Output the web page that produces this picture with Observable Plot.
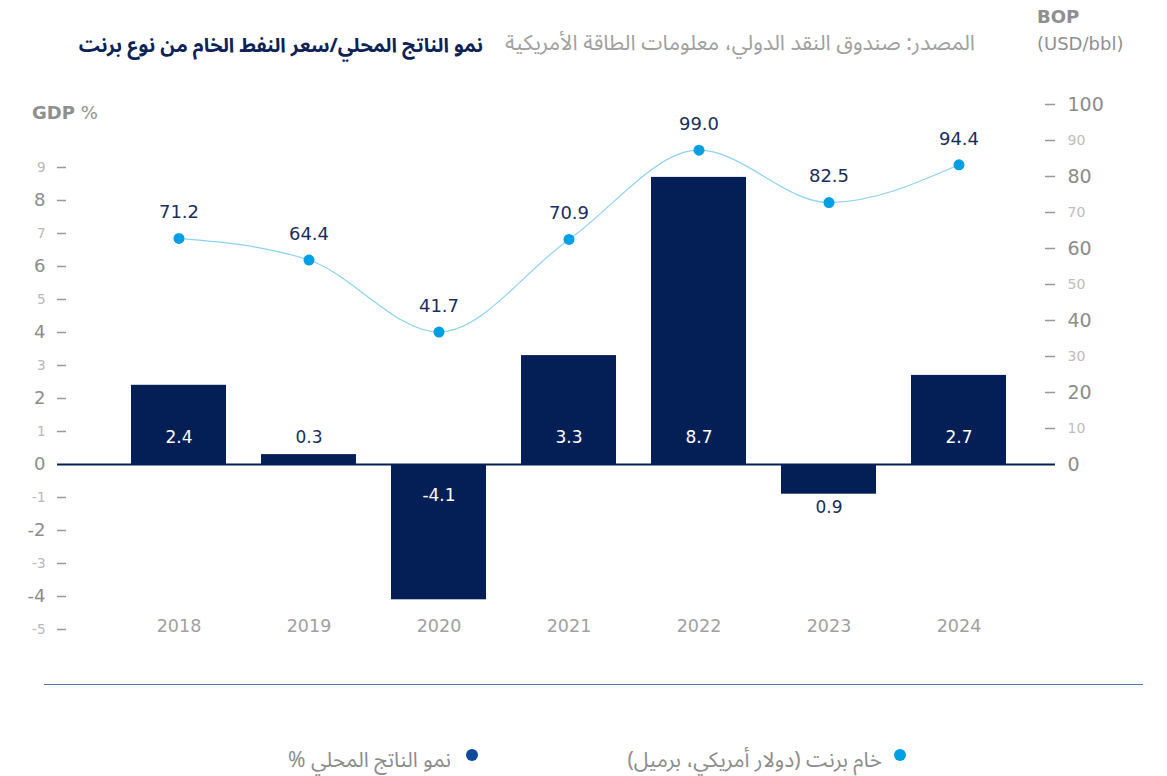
<!DOCTYPE html>
<html><head><meta charset="utf-8">
<script src="https://cdn.jsdelivr.net/npm/d3@7"></script>
<script src="https://cdn.jsdelivr.net/npm/@observablehq/plot@0.6"></script>
<style>
body{margin:0;background:#fff;}
#wrap{position:relative;width:1167px;height:776px;overflow:hidden;font-family:"DejaVu Sans",sans-serif;}
#chart{position:absolute;left:0;top:0;}
.abs{position:absolute;white-space:nowrap;}
.ar{font-family:"Noto Sans Arabic","Noto Sans","DejaVu Sans",sans-serif;direction:rtl;}
.dot{position:absolute;width:12px;height:12px;border-radius:50%;}
</style></head><body>
<div id="wrap">
  <div id="chart"></div>
  <div class="abs ar" style="right:684px;top:33px;font-size:19.8px;line-height:26px;font-weight:bold;color:#0d2256;">نمو الناتج المحلي/سعر النفط الخام من نوع برنت</div>
  <div class="abs ar" style="right:192px;top:29px;font-size:21.5px;line-height:28px;color:#a0a0a0;">المصدر: صندوق النقد الدولي، معلومات الطاقة الأمريكية</div>
  <div class="abs" style="left:1037px;top:5px;font-size:18px;line-height:24px;font-weight:bold;color:#8f8f8f;">BOP</div>
  <div class="abs" style="left:1037px;top:32px;font-size:18px;line-height:24px;color:#8f8f8f;">(USD/bbl)</div>
  <div class="abs" style="left:32px;top:101px;font-size:18px;line-height:24px;color:#8f8f8f;"><b>GDP</b> %</div>
  <div class="abs" style="left:44px;top:684px;width:1099px;border-top:1px solid #5877a8;"></div>
  <div class="dot" style="left:894px;top:749px;background:#009fe3;"></div>
  <div class="abs ar" style="right:285px;top:748px;font-size:21px;line-height:24px;color:#8c8c8c;">خام برنت (دولار أمريكي، برميل)</div>
  <div class="dot" style="left:466px;top:749px;background:#0d4a9a;"></div>
  <div class="abs ar" style="right:716px;top:748px;font-size:21px;line-height:24px;color:#8c8c8c;">نمو الناتج المحلي %</div>
</div>
<script>
const years = ["2018", "2019", "2020", "2021", "2022", "2023", "2024"];
const gdpGrowth = [2.4, 0.3, -4.1, 3.3, 8.7, -0.9, 2.7];
const gdpLabelText = ["2.4", "0.3", "-4.1", "3.3", "8.7", "0.9", "2.7"];
const brentPrice = [71.2, 64.4, 41.7, 70.9, 99.0, 82.5, 94.4];
const gdpTicks = [-5, -4, -3, -2, -1, 0, 1, 2, 3, 4, 5, 6, 7, 8, 9];
const bopTicks = [0, 10, 20, 30, 40, 50, 60, 70, 80, 90, 100];

// secondary-axis mappings onto the GDP scale
const bopFactor = 0.10909;   // right axis tick value -> GDP units
const brentFactor = 0.0962;  // brent line value -> GDP units

const rows = years.map((year, i) => ({year, gdp: gdpGrowth[i], label: gdpLabelText[i], brent: brentPrice[i]}));

const W = 1167, H = 776, mL = 57, mR = 112, mT = 104, mB = 147;
const frameW = W - mL - mR;
const navy = "#041f56";
const labelNavy = "#1b2d5b";

const isMajorGdp = d => d % 2 === 0;
const isMajorBop = d => d % 20 === 0;

const plot = Plot.plot({
  width: W, height: H,
  marginLeft: mL, marginRight: mR, marginTop: mT, marginBottom: mB,
  x: {domain: years, paddingInner: 0.273, paddingOuter: 0.455, align: 0.601, axis: null},
  y: {domain: [-5, 100 * bopFactor], axis: null},
  style: {fontFamily: "'DejaVu Sans', sans-serif", background: "transparent", overflow: "visible"},
  marks: [
    Plot.barY(rows, {x: "year", y: "gdp", fill: navy}),
    Plot.ruleY(gdpTicks.filter(d => d !== 0), {y: d => d, insetRight: frameW - 9, stroke: "#9a9a9a", strokeWidth: 1.5}),
    Plot.ruleY(bopTicks.filter(d => d !== 0), {y: d => d * bopFactor, insetLeft: frameW - 10, stroke: "#9a9a9a", strokeWidth: 1.5}),
    Plot.ruleY([0], {stroke: navy, strokeWidth: 2}),
    Plot.text(gdpTicks.filter(isMajorGdp), {y: d => d, text: d => String(d), frameAnchor: "left", textAnchor: "end", dx: -12, fontSize: 18, fill: "#8c8c8c"}),
    Plot.text(gdpTicks.filter(d => !isMajorGdp(d)), {y: d => d, text: d => String(d), frameAnchor: "left", textAnchor: "end", dx: -12, fontSize: 13.5, fill: "#b8b8b8"}),
    Plot.text(bopTicks.filter(isMajorBop), {y: d => d * bopFactor, text: d => String(d), frameAnchor: "right", textAnchor: "start", dx: 12, fontSize: 19, fill: "#8c8c8c"}),
    Plot.text(bopTicks.filter(d => !isMajorBop(d)), {y: d => d * bopFactor, text: d => String(d), frameAnchor: "right", textAnchor: "start", dx: 12, fontSize: 14, fill: "#bdbdbd"}),
    Plot.text(years, {x: d => d, frameAnchor: "bottom", text: d => d, dy: 2, fontSize: 17.5, fill: "#a0a0a0"}),
    Plot.text(rows.filter(d => d.gdp >= 0), {x: "year", y: () => 0, text: "label", dy: -27, fontSize: 17, fill: d => d.gdp > 1 ? "#ffffff" : labelNavy}),
    Plot.text(rows.filter(d => d.gdp < -2), {x: "year", y: () => 0, text: "label", dy: 31, fontSize: 17, fill: "#ffffff"}),
    Plot.text(rows.filter(d => d.gdp < 0 && d.gdp >= -2), {x: "year", y: "gdp", text: "label", dy: 13, fontSize: 17, fill: labelNavy}),
    Plot.line(rows, {x: "year", y: d => d.brent * brentFactor, curve: "monotone-x", stroke: "#8ed1f1", strokeWidth: 1.2}),
    Plot.dot(rows, {x: "year", y: d => d.brent * brentFactor, r: 5.5, fill: "#009fe3"}),
    Plot.text(rows, {x: "year", y: d => d.brent * brentFactor, text: d => d.brent.toFixed(1), dy: -26, fontSize: 18, fill: labelNavy})
  ]
});
document.getElementById("chart").appendChild(plot);
</script>
</body></html>
